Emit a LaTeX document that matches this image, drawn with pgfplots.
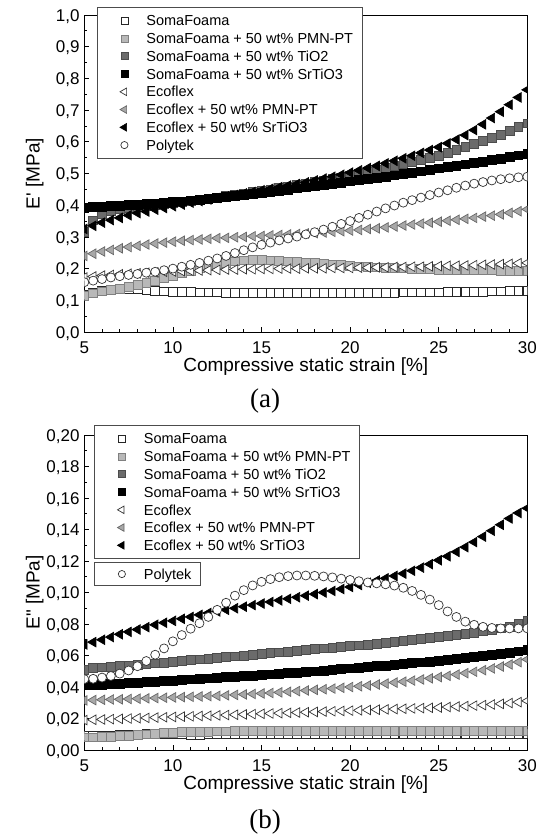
\documentclass[border=0pt]{standalone}
\usepackage{fontspec}
\setmainfont{Liberation Sans}
\newfontfamily\serifA{Liberation Serif}
\usepackage{pgfplots}
\usepackage{pgfplotstable}
\pgfplotsset{compat=1.18}

\definecolor{lgf}{gray}{0.72}
\definecolor{lgd}{gray}{0.50}
\definecolor{dgf}{gray}{0.42}
\definecolor{dgd}{gray}{0.30}
\definecolor{tgf}{gray}{0.66}
\definecolor{tgd}{gray}{0.40}

\pgfplotstableread{
x s1 s2 s3 s4 e1 e2 e3 p
5.0 .118 .115 .315 .392 .172 .240 .325 .157
5.5 .125 .122 .352 .394 .175 .247 .335 .162
6.0 .130 .128 .372 .396 .178 .254 .345 .167
6.5 .134 .132 .383 .397 .180 .259 .353 .172
7.0 .137 .137 .389 .399 .182 .264 .360 .176
7.5 .137 .142 .392 .400 .184 .268 .368 .180
8.0 .135 .148 .395 .402 .185 .272 .375 .183
8.5 .132 .155 .398 .404 .187 .276 .380 .187
9.0 .130 .162 .401 .406 .188 .279 .386 .190
9.5 .128 .170 .404 .408 .190 .282 .391 .195
10.0 .127 .178 .407 .410 .191 .285 .397 .200
10.5 .126 .186 .411 .412 .192 .288 .402 .206
11.0 .126 .194 .414 .415 .193 .290 .408 .212
11.5 .125 .201 .418 .417 .194 .292 .413 .218
12.0 .125 .208 .421 .420 .195 .294 .418 .225
12.5 .125 .214 .425 .423 .196 .296 .423 .232
13.0 .124 .219 .429 .426 .197 .297 .428 .240
13.5 .124 .223 .433 .429 .197 .299 .432 .249
14.0 .124 .226 .437 .432 .198 .300 .437 .258
14.5 .124 .227 .441 .435 .198 .302 .442 .267
15.0 .124 .227 .445 .439 .199 .303 .447 .275
15.5 .124 .226 .449 .442 .199 .305 .452 .282
16.0 .124 .225 .454 .446 .200 .306 .457 .289
16.5 .124 .223 .458 .449 .200 .308 .462 .295
17.0 .124 .221 .463 .453 .200 .309 .467 .301
17.5 .124 .219 .468 .456 .201 .311 .472 .308
18.0 .124 .217 .473 .460 .201 .312 .478 .315
18.5 .124 .215 .478 .463 .201 .314 .484 .323
19.0 .124 .213 .483 .467 .202 .316 .490 .332
19.5 .124 .211 .488 .471 .202 .318 .496 .341
20.0 .124 .209 .494 .475 .202 .320 .503 .350
20.5 .124 .207 .500 .479 .203 .322 .510 .360
21.0 .124 .206 .506 .483 .203 .325 .517 .370
21.5 .124 .204 .512 .486 .204 .327 .524 .380
22.0 .124 .203 .518 .490 .204 .330 .532 .390
22.5 .124 .202 .524 .494 .205 .333 .540 .399
23.0 .125 .201 .530 .498 .205 .336 .548 .408
23.5 .125 .200 .536 .502 .206 .339 .556 .416
24.0 .125 .199 .543 .507 .206 .342 .565 .424
24.5 .125 .198 .549 .511 .207 .345 .574 .432
25.0 .125 .197 .556 .516 .208 .348 .583 .440
25.5 .126 .197 .565 .520 .209 .351 .595 .447
26.0 .126 .196 .574 .525 .209 .354 .607 .455
26.5 .126 .196 .584 .529 .210 .357 .621 .462
27.0 .127 .195 .594 .534 .211 .360 .637 .468
27.5 .127 .195 .603 .538 .212 .364 .655 .473
28.0 .128 .195 .613 .543 .213 .367 .675 .478
28.5 .128 .194 .623 .547 .214 .371 .695 .482
29.0 .129 .194 .634 .552 .215 .376 .717 .485
29.5 .129 .194 .646 .557 .217 .381 .740 .488
30.0 .130 .194 .658 .562 .218 .387 .764 .490
}\storage

\pgfplotstableread{
x s1 s2 s3 s4 e1 e2 e3 p
5.0 .0090 .0080 .0510 .0410 .0190 .0315 .0670 .0450
5.5 .0090 .0080 .0520 .0413 .0192 .0317 .0685 .0452
6.0 .0090 .0082 .0525 .0416 .0194 .0319 .0700 .0460
6.5 .0091 .0085 .0530 .0419 .0196 .0321 .0717 .0470
7.0 .0094 .0088 .0532 .0422 .0198 .0322 .0735 .0485
7.5 .0098 .0091 .0535 .0425 .0200 .0324 .0750 .0505
8.0 .0100 .0095 .0540 .0428 .0202 .0326 .0765 .0532
8.5 .0101 .0100 .0545 .0431 .0204 .0328 .0780 .0565
9.0 .0101 .0104 .0550 .0434 .0206 .0330 .0795 .0605
9.5 .0102 .0108 .0555 .0437 .0208 .0332 .0808 .0645
10.0 .0102 .0111 .0560 .0441 .0210 .0334 .0820 .0690
10.5 .0100 .0113 .0565 .0444 .0212 .0336 .0833 .0730
11.0 .0094 .0115 .0570 .0448 .0214 .0338 .0845 .0770
11.5 .0098 .0116 .0575 .0451 .0216 .0340 .0858 .0805
12.0 .0100 .0117 .0580 .0455 .0218 .0342 .0870 .0845
12.5 .0102 .0118 .0585 .0458 .0220 .0344 .0880 .0890
13.0 .0103 .0119 .0590 .0462 .0222 .0347 .0890 .0935
13.5 .0103 .0120 .0595 .0465 .0224 .0350 .0900 .0980
14.0 .0104 .0120 .0600 .0469 .0226 .0353 .0910 .1015
14.5 .0104 .0121 .0605 .0472 .0228 .0356 .0920 .1045
15.0 .0104 .0121 .0610 .0476 .0230 .0359 .0930 .1068
15.5 .0104 .0121 .0615 .0480 .0232 .0362 .0940 .1085
16.0 .0104 .0122 .0620 .0484 .0234 .0366 .0950 .1097
16.5 .0104 .0122 .0625 .0488 .0236 .0370 .0960 .1104
17.0 .0104 .0122 .0630 .0492 .0238 .0374 .0970 .1108
17.5 .0104 .0122 .0635 .0496 .0240 .0378 .0980 .1108
18.0 .0104 .0122 .0640 .0500 .0242 .0382 .0990 .1106
18.5 .0104 .0122 .0645 .0505 .0244 .0386 .1000 .1102
19.0 .0104 .0123 .0650 .0509 .0246 .0390 .1010 .1096
19.5 .0104 .0123 .0655 .0514 .0248 .0395 .1022 .1088
20.0 .0104 .0123 .0660 .0518 .0250 .0400 .1035 .1080
20.5 .0104 .0123 .0665 .0523 .0252 .0405 .1048 .1072
21.0 .0104 .0123 .0670 .0527 .0254 .0410 .1062 .1064
21.5 .0104 .0123 .0676 .0532 .0256 .0416 .1076 .1058
22.0 .0104 .0123 .0682 .0536 .0258 .0422 .1090 .1052
22.5 .0104 .0123 .0688 .0541 .0260 .0428 .1105 .1044
23.0 .0104 .0124 .0694 .0546 .0262 .0434 .1120 .1030
23.5 .0104 .0124 .0700 .0551 .0264 .0441 .1138 .1010
24.0 .0104 .0124 .0706 .0556 .0266 .0448 .1158 .0985
24.5 .0104 .0124 .0712 .0562 .0268 .0455 .1180 .0955
25.0 .0104 .0124 .0718 .0567 .0270 .0463 .1205 .0920
25.5 .0104 .0124 .0724 .0573 .0273 .0471 .1230 .0880
26.0 .0104 .0124 .0730 .0578 .0276 .0479 .1258 .0845
26.5 .0104 .0124 .0738 .0584 .0279 .0488 .1288 .0815
27.0 .0104 .0124 .0746 .0590 .0282 .0497 .1320 .0795
27.5 .0104 .0124 .0754 .0597 .0285 .0507 .1355 .0782
28.0 .0104 .0124 .0762 .0604 .0289 .0518 .1392 .0775
28.5 .0104 .0124 .0772 .0611 .0293 .0530 .1430 .0772
29.0 .0104 .0124 .0784 .0618 .0298 .0543 .1470 .0772
29.5 .0104 .0124 .0800 .0626 .0304 .0558 .1505 .0772
30.0 .0104 .0124 .0820 .0635 .0312 .0575 .1535 .0772
}\lossdata

\pgfplotsset{
  panel/.style={
    scale only axis,
    width=443pt,
    xmin=5, xmax=30,
    xtick={5,10,15,20,25,30},
    minor x tick num=4,
    tick align=inside,
    tick pos=left,
    major tick length=5pt,
    minor tick length=3pt,
    every tick/.style={black, line width=0.8pt},
    axis line style={line width=0.9pt},
    /pgf/number format/assume math mode=true,
    tick label style={font=\fontsize{17}{20}\selectfont},
    xticklabel style={anchor=base, yshift=-21pt},
    yticklabel style={anchor=base east, yshift=-6.1pt, xshift=-1.3pt},
    label style={font=\fontsize{19}{22}\selectfont},
    xlabel style={at={(axis description cs:0.5,0)}, anchor=base, yshift=-39.7pt},
    ylabel style={at={(axis description cs:-0.112,0.5)}, anchor=center},
    xlabel={Compressive static strain [\%]},
    clip marker paths=true,
    legend cell align=left,
    legend image code/.code={\path[draw=none,fill=none] (0pt,0pt) -- (28pt,0pt); \path[##1,only marks] plot coordinates {(18pt,0pt)};},
    legend image post style={every mark/.append style={scale=0.8}},
    legend style={draw=black!70, line width=0.8pt, fill=white,
      font=\fontsize{14.5}{17}\selectfont,
      inner xsep=9pt, inner ysep=8.15pt, row sep=7.36pt, column sep=12pt,
      nodes={inner sep=0pt, text height=10.4pt, text depth=0pt}},
  },
  pSoma/.style={only marks, mark=square*, mark size=4.4pt, draw=black!85, fill=white, line width=0.7pt},
  pPMN/.style={only marks, mark=square*, mark size=4.4pt, draw=lgd, fill=lgf, line width=0.7pt},
  pTiO/.style={only marks, mark=square*, mark size=4.4pt, draw=dgd, fill=dgf, line width=0.7pt},
  pSr/.style={only marks, mark=square*, mark size=4.4pt, draw=black, fill=black, line width=0.7pt},
  pEco/.style={only marks, mark=triangle*, mark size=5.5pt, mark options={rotate=90}, draw=black!80, fill=white, line width=0.7pt},
  pEcoP/.style={only marks, mark=triangle*, mark size=5.5pt, mark options={rotate=90}, draw=tgd, fill=tgf, line width=0.7pt},
  pEcoS/.style={only marks, mark=triangle*, mark size=5.5pt, mark options={rotate=90}, draw=black, fill=black, line width=0.7pt},
  pPoly/.style={only marks, mark=*, mark size=4.5pt, draw=black!80, fill=white, line width=0.7pt},
}

\begin{document}
\begin{tikzpicture}
\begin{axis}[panel,
  at={(84.3pt,-332pt)}, anchor=south west, height=317pt,
  ymin=0, ymax=1,
  ytick={0,0.1,0.2,0.3,0.4,0.5,0.6,0.7,0.8,0.9,1.0},
  minor y tick num=1,
  yticklabel style={/pgf/number format/.cd, fixed, fixed zerofill, precision=1, use comma},
  ylabel={E\textquotesingle{} [MPa]},
  legend style={at={(axis description cs:0.0287,1.0252)}, anchor=north west},
]
\addplot[pSoma] table[x=x,y=s1] {\storage};
\addlegendentry{SomaFoama}
\addplot[pPMN] table[x=x,y=s2] {\storage};
\addlegendentry{SomaFoama + 50 wt\% PMN-PT}
\addplot[pTiO] table[x=x,y=s3] {\storage};
\addlegendentry{SomaFoama + 50 wt\% TiO2}
\addplot[pSr] table[x=x,y=s4] {\storage};
\addlegendentry{SomaFoama + 50 wt\% SrTiO3}
\addplot[pEco] table[x=x,y=e1] {\storage};
\addlegendentry{Ecoflex}
\addplot[pEcoP] table[x=x,y=e2] {\storage};
\addlegendentry{Ecoflex + 50 wt\% PMN-PT}
\addplot[pEcoS] table[x=x,y=e3] {\storage};
\addlegendentry{Ecoflex + 50 wt\% SrTiO3}
\addplot[pPoly] table[x=x,y=p] {\storage};
\addlegendentry{Polytek}
\end{axis}

\begin{axis}[panel,
  at={(84.3pt,-750pt)}, anchor=south west, height=315pt,
  ymin=0, ymax=0.2,
  ytick={0,0.02,0.04,0.06,0.08,0.10,0.12,0.14,0.16,0.18,0.20},
  minor y tick num=1,
  yticklabel style={/pgf/number format/.cd, fixed, fixed zerofill, precision=2, use comma},
  ylabel={E\textquotedbl{} [MPa]},
  legend style={at={(axis description cs:0.023,1.0317)}, anchor=north west},
]
\addplot[pSoma] table[x=x,y=s1] {\lossdata};
\addlegendentry{SomaFoama}
\addplot[pPMN] table[x=x,y=s2] {\lossdata};
\addlegendentry{SomaFoama + 50 wt\% PMN-PT}
\addplot[pTiO] table[x=x,y=s3] {\lossdata};
\addlegendentry{SomaFoama + 50 wt\% TiO2}
\addplot[pSr] table[x=x,y=s4] {\lossdata};
\addlegendentry{SomaFoama + 50 wt\% SrTiO3}
\addplot[pEco] table[x=x,y=e1] {\lossdata};
\addlegendentry{Ecoflex}
\addplot[pEcoP] table[x=x,y=e2] {\lossdata};
\addlegendentry{Ecoflex + 50 wt\% PMN-PT}
\addplot[pEcoS] table[x=x,y=e3] {\lossdata};
\addlegendentry{Ecoflex + 50 wt\% SrTiO3}
\end{axis}

\begin{axis}[panel, hide axis,
  at={(84.3pt,-750pt)}, anchor=south west, height=315pt,
  ymin=0, ymax=0.2,
  legend style={at={(axis description cs:0.023,0.5968)}, anchor=north west, inner ysep=6.45pt},
]
\addplot[pPoly] table[x=x,y=p] {\lossdata};
\addlegendentry{Polytek}
\end{axis}

\node[font=\serifA\fontsize{27}{30}\selectfont, anchor=base] at (265pt,-407pt) {(a)};
\node[font=\serifA\fontsize{27}{30}\selectfont, anchor=base] at (265pt,-828pt) {(b)};

\pgfresetboundingbox
\useasboundingbox (0pt,0pt) rectangle (544pt,-834pt);
\end{tikzpicture}
\end{document}
